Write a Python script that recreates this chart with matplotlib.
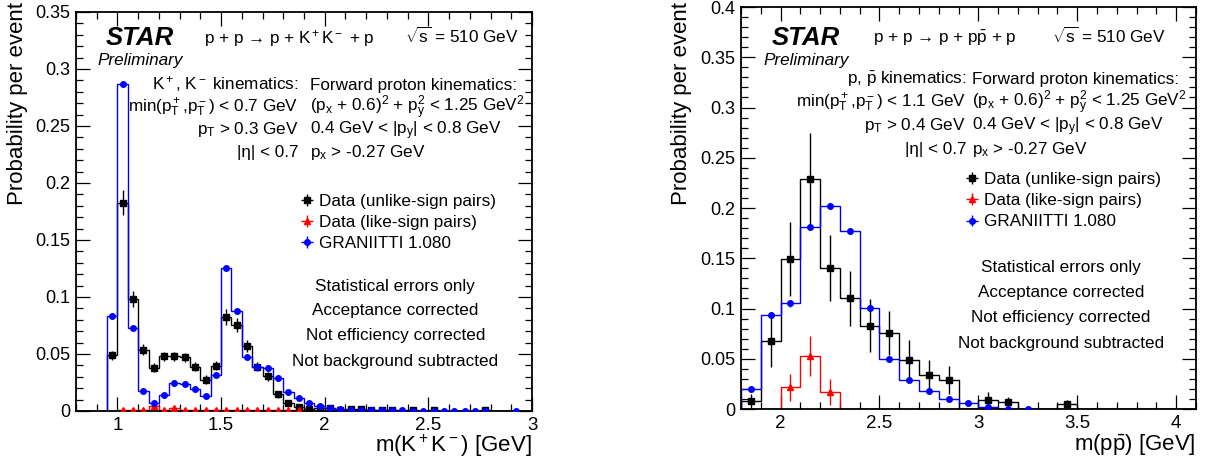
import numpy as np
import matplotlib
matplotlib.use("Agg")
import matplotlib.pyplot as plt
from matplotlib.ticker import MultipleLocator, FuncFormatter
from matplotlib.container import ErrorbarContainer
from matplotlib.legend_handler import HandlerErrorbar

plt.rcParams["font.family"] = ["Liberation Sans", "DejaVu Sans"]
plt.rcParams["mathtext.fontset"] = "custom"
plt.rcParams["mathtext.rm"] = "Liberation Sans"
plt.rcParams["mathtext.it"] = "Liberation Sans:italic"
plt.rcParams["mathtext.bf"] = "Liberation Sans:bold"
plt.rcParams["mathtext.default"] = "regular"

# ---- K+K- panel: 0.05 GeV bins from 0.8 to 3.0 ----
kk_edges = np.round(np.linspace(0.8, 3.0, 45), 3)
kk_unlike = [0, 0, 0,
             0.049, 0.1827, 0.0985, 0.0538, 0.038, 0.048, 0.048, 0.047, 0.0389, 0.0275,
             0.0398, 0.0827, 0.0757, 0.057, 0.0389, 0.0304, 0.0146, 0.0073, 0.0038, 0.0015,
             0.003, 0.0023, 0.001, 0.002, 0.0015, 0.0012, 0.001, 0.001, 0, 0.001,
             0, 0.0008, 0, 0, 0, 0, 0.0008, 0, 0, 0, 0]
kk_unlike_err = [0, 0, 0,
                 0.004, 0.011, 0.007, 0.005, 0.004, 0.004, 0.004, 0.004, 0.004, 0.004,
                 0.004, 0.007, 0.006, 0.005, 0.004, 0.004, 0.003, 0.002, 0.0015, 0.001,
                 0.001, 0.001, 0.001, 0.001, 0.001, 0.001, 0.001, 0.001, 0, 0.001,
                 0, 0.001, 0, 0, 0, 0, 0.001, 0, 0, 0, 0]
kk_like = [0, 0, 0,
           0, 0.001, 0.0012, 0.0012, 0.004, 0.0008, 0.003, 0.0008, 0.001, 0.001,
           0.0012, 0.001, 0.0008, 0.0008, 0.0012, 0.0012, 0.0008, 0.0006, 0.0006, 0,
           0, 0, 0, 0, 0, 0, 0, 0, 0, 0,
           0, 0, 0, 0, 0, 0, 0, 0, 0, 0, 0]
kk_like_err = [0, 0, 0,
               0, 0.001, 0.001, 0.001, 0.002, 0.001, 0.0015, 0.001, 0.001, 0.001,
               0.001, 0.001, 0.001, 0.001, 0.001, 0.001, 0.001, 0.001, 0.001, 0,
               0, 0, 0, 0, 0, 0, 0, 0, 0, 0,
               0, 0, 0, 0, 0, 0, 0, 0, 0, 0, 0]
kk_graniitti = [0, 0, 0,
                0.083, 0.287, 0.073, 0.0175, 0.0067, 0.014, 0.0246, 0.024, 0.0196, 0.0132,
                0.0313, 0.1257, 0.0877, 0.0477, 0.0389, 0.038, 0.0292, 0.017, 0.0112, 0.0067,
                0.0045, 0.003, 0.0018, 0.0012, 0.001, 0.0008, 0.0006, 0.0005, 0.0005, 0.0004,
                0.0004, 0.0003, 0.0003, 0.0003, 0.0002, 0.0002, 0.0002, 0, 0, 0.0002, 0]
kk_graniitti_err = [0.001 if v > 0.05 else 0.0005 if v > 0 else 0 for v in kk_graniitti]

# ---- p pbar panel: 0.1 GeV bins from 1.8 to 4.1 ----
pp_edges = np.round(np.linspace(1.8, 4.1, 24), 3)
pp_unlike = [0.0076, 0.0673, 0.149, 0.229, 0.140, 0.110, 0.083, 0.076, 0.049, 0.034,
             0.029, 0, 0.0086, 0.0066, 0, 0, 0.0053, 0, 0, 0, 0, 0, 0]
pp_unlike_err = [0.007, 0.025, 0.037, 0.046, 0.033, 0.027, 0.026, 0.022, 0.02, 0.015,
                 0.014, 0, 0.008, 0.005, 0, 0, 0.004, 0, 0, 0, 0, 0, 0]
pp_like = [0, 0, 0.0216, 0.0524, 0.0169, 0, 0, 0, 0, 0,
           0, 0, 0, 0, 0, 0, 0, 0, 0, 0, 0, 0, 0]
pp_like_err = [0, 0, 0.0136, 0.02, 0.013, 0, 0, 0, 0, 0,
               0, 0, 0, 0, 0, 0, 0, 0, 0, 0, 0, 0, 0]
pp_graniitti = [0.0196, 0.0939, 0.105, 0.181, 0.2017, 0.177, 0.101, 0.050, 0.0289, 0.0179,
                0.0103, 0.006, 0.0023, 0.0003, 0.0001, 0, 0, 0, 0, 0, 0, 0, 0]
pp_graniitti_err = [0.003 if v > 0.05 else 0.001 if v > 0 else 0 for v in pp_graniitti]

labels = ["Data (unlike-sign pairs)", "Data (like-sign pairs)", "GRANIITTI 1.080"]
styles = [("black", "s", 4.6), ("red", "^", 4.2), ("blue", "o", 4.0)]
notes = ["Statistical errors only", "Acceptance corrected",
         "Not efficiency corrected", "Not background subtracted"]

FS = 12.3


def draw_hist(ax, edges, vals, errs, color, marker, ms):
    vals = np.asarray(vals, dtype=float)
    errs = np.asarray(errs, dtype=float)
    centers = 0.5 * (edges[:-1] + edges[1:])
    ax.stairs(vals, edges, color=color, lw=1.0, zorder=2)
    shown = vals > 0
    ax.errorbar(centers[shown], vals[shown], yerr=errs[shown], fmt=marker,
                color=color, ms=ms, elinewidth=1.0, capsize=0, zorder=3)


def style_axes(ax, xlim, ylim, ymajor):
    ax.set_xlim(*xlim)
    ax.set_ylim(*ylim)
    ax.xaxis.set_major_locator(MultipleLocator(0.5))
    ax.xaxis.set_minor_locator(MultipleLocator(0.1))
    ax.yaxis.set_major_locator(MultipleLocator(ymajor))
    ax.yaxis.set_minor_locator(MultipleLocator(0.01))
    fmt = FuncFormatter(lambda v, p: "%g" % round(v, 3))
    ax.xaxis.set_major_formatter(fmt)
    ax.yaxis.set_major_formatter(fmt)
    ax.tick_params(which="both", direction="in", top=True, right=True, width=0.9)
    ax.tick_params(which="major", length=10)
    ax.tick_params(which="minor", length=5)
    ax.tick_params(axis="x", labelsize=13.5, pad=4)
    ax.tick_params(axis="y", labelsize=13, pad=4)
    for s in ax.spines.values():
        s.set_linewidth(1.3)


def add_legend(ax, x, y):
    handles = []
    for color, marker, ms in styles:
        h = ax.errorbar([np.nan], [np.nan], xerr=[1], yerr=[1], fmt=marker, color=color,
                        ms=ms, elinewidth=1.0, capsize=0)
        handles.append(h)
    ax.legend(handles, labels, loc="upper left", bbox_to_anchor=(x, y), frameon=False,
              fontsize=FS, borderpad=0, borderaxespad=0, handlelength=1.0,
              handletextpad=0.2, labelspacing=0.37, numpoints=1,
              handler_map={ErrorbarContainer: HandlerErrorbar(xerr_size=0.35)})


def header(ax, star_x, star_y, prel_y, react_x, react_y, reaction, sqrt_x):
    ax.text(star_x, star_y, "STAR", transform=ax.transAxes, ha="center", va="baseline",
            fontsize=18.5, fontweight="bold", fontstyle="italic")
    ax.text(star_x, prel_y, "Preliminary", transform=ax.transAxes, ha="center",
            va="baseline", fontsize=12.3, fontstyle="italic")
    ax.text(react_x, react_y, reaction, transform=ax.transAxes, ha="left",
            va="baseline", fontsize=FS)
    ax.text(sqrt_x, react_y, r"$\sqrt{s}$ = 510 GeV", transform=ax.transAxes,
            ha="left", va="baseline", fontsize=FS)


def cuts(ax, xr, xl, ys, right_lines, left_lines):
    for y, s in zip(ys, right_lines):
        ax.text(xr, y, s, transform=ax.transAxes, ha="right", va="baseline", fontsize=FS)
    for y, s in zip(ys, left_lines):
        ax.text(xl, y, s, transform=ax.transAxes, ha="left", va="baseline", fontsize=FS)


def add_notes(ax, x, ys):
    for y, s in zip(ys, notes):
        ax.text(x, y, s, transform=ax.transAxes, ha="center", va="center", fontsize=FS)


fig = plt.figure(figsize=(12.1, 4.59), dpi=100)

forward = ["Forward proton kinematics:",
           r"(p$_x$ + 0.6)$^2$ + p$_y^2$ < 1.25 GeV$^2$",
           r"0.4 GeV < |p$_y$| < 0.8 GeV",
           r"p$_x$ > -0.27 GeV"]

# ---- left panel ----
ax1 = fig.add_axes([0.0628, 0.1046, 0.3769, 0.8693])
draw_hist(ax1, kk_edges, kk_unlike, kk_unlike_err, *styles[0])
draw_hist(ax1, kk_edges, kk_like, kk_like_err, *styles[1])
draw_hist(ax1, kk_edges, kk_graniitti, kk_graniitti_err, *styles[2])
style_axes(ax1, (0.8, 3.0), (0, 0.35), 0.05)
header(ax1, 0.140, 0.917, 0.868, 0.280, 0.922,
       r"p + p → p + K$^+$K$^-$ + p", 0.722)
cuts(ax1, 0.488, 0.514, [0.805, 0.750, 0.693, 0.637],
     [r"K$^+$, K$^-$ kinematics:", r"min(p$_T^+$,p$_T^-$) < 0.7 GeV",
      r"p$_T$ > 0.3 GeV", "|η| < 0.7"], forward)
add_legend(ax1, 0.488, 0.545)
add_notes(ax1, 0.70, [0.3115, 0.2506, 0.188, 0.125])
ax1.text(1.0, -0.088, r"m(K$^+$K$^-$) [GeV]", transform=ax1.transAxes, ha="right",
         va="center", fontsize=16)
ax1.text(-0.129, 1.025, "Probability per event", transform=ax1.transAxes, ha="center",
         va="top", rotation=90, fontsize=16)

# ---- right panel ----
ax2 = fig.add_axes([0.6124, 0.1089, 0.3760, 0.8758])
draw_hist(ax2, pp_edges, pp_unlike, pp_unlike_err, *styles[0])
draw_hist(ax2, pp_edges, pp_like, pp_like_err, *styles[1])
draw_hist(ax2, pp_edges, pp_graniitti, pp_graniitti_err, *styles[2])
style_axes(ax2, (1.8, 4.1), (0, 0.4), 0.05)
header(ax2, 0.143, 0.905, 0.856, 0.290, 0.910,
       r"p + p → p + p$\bar{p}$ + p", 0.684)
cuts(ax2, 0.495, 0.508, [0.808, 0.751, 0.694, 0.634],
     [r"p, $\bar{p}$ kinematics:", r"min(p$_T^+$,p$_T^-$) < 1.1 GeV",
      r"p$_T$ > 0.4 GeV", "|η| < 0.7"], forward)
add_legend(ax2, 0.490, 0.590)
add_notes(ax2, 0.703, [0.3525, 0.289, 0.227, 0.163])
ax2.text(1.0, -0.0896, r"m(p$\bar{p}$) [GeV]", transform=ax2.transAxes, ha="right",
         va="center", fontsize=16)
ax2.text(-0.130, 1.012, "Probability per event", transform=ax2.transAxes, ha="center",
         va="top", rotation=90, fontsize=16)

fig.savefig("out.png", dpi=100)
